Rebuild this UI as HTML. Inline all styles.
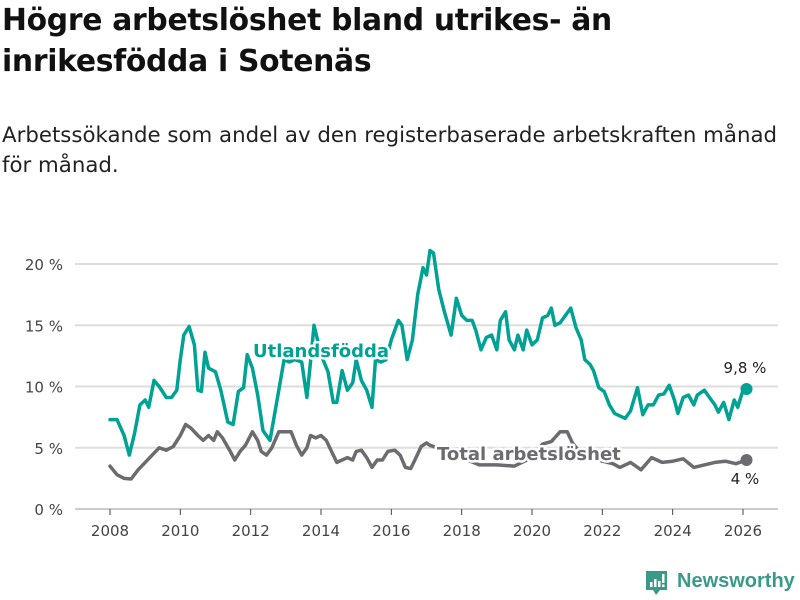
<!DOCTYPE html>
<html><head><meta charset="utf-8">
<style>
body{margin:0;background:#fff;width:800px;height:600px;overflow:hidden;font-family:"Liberation Sans","DejaVu Sans",sans-serif;}
h1{position:absolute;left:2px;top:0;margin:0;font-family:"DejaVu Sans","Liberation Sans",sans-serif;font-weight:bold;font-size:29.8px;line-height:41px;color:#111;letter-spacing:-0.3px}
.sub{position:absolute;left:2px;top:121px;font-family:"DejaVu Sans","Liberation Sans",sans-serif;font-size:21.3px;line-height:30px;color:#222;white-space:nowrap}
svg{position:absolute;left:0;top:0}
</style></head><body>
<h1>Högre arbetslöshet bland utrikes- än<br>inrikesfödda i Sotenäs</h1>
<div class="sub">Arbetssökande som andel av den registerbaserade arbetskraften månad<br>för månad.</div>
<svg id="chart" width="800" height="600"></svg>
<script>
const yTicks=[0,5,10,15,20];
const xTicks=[2008,2010,2012,2014,2016,2018,2020,2022,2024,2026];
const foreignDates=[2008.0,2008.2,2008.4,2008.55,2008.7,2008.85,2009.0,2009.1,2009.25,2009.4,2009.6,2009.75,2009.9,2010.0,2010.1,2010.25,2010.4,2010.5,2010.6,2010.7,2010.8,2011.0,2011.15,2011.35,2011.5,2011.65,2011.8,2011.9,2012.05,2012.2,2012.35,2012.55,2012.8,2012.95,2013.1,2013.25,2013.45,2013.6,2013.7,2013.8,2013.9,2014.0,2014.2,2014.35,2014.45,2014.6,2014.75,2014.9,2015.0,2015.15,2015.3,2015.45,2015.55,2015.7,2015.85,2016.0,2016.2,2016.3,2016.45,2016.6,2016.75,2016.9,2017.0,2017.1,2017.2,2017.35,2017.5,2017.7,2017.85,2018.0,2018.15,2018.3,2018.4,2018.55,2018.7,2018.85,2019.0,2019.1,2019.25,2019.35,2019.5,2019.6,2019.75,2019.85,2020.0,2020.15,2020.3,2020.45,2020.55,2020.65,2020.8,2021.0,2021.1,2021.25,2021.4,2021.5,2021.65,2021.75,2021.9,2022.05,2022.2,2022.35,2022.5,2022.65,2022.8,2023.0,2023.15,2023.3,2023.45,2023.6,2023.75,2023.9,2024.05,2024.15,2024.3,2024.45,2024.6,2024.7,2024.9,2025.1,2025.2,2025.3,2025.45,2025.6,2025.75,2025.85,2026.0,2026.1];
const foreignValues=[7.3,7.3,6.0,4.4,6.2,8.5,8.9,8.3,10.5,10.0,9.1,9.1,9.7,12.2,14.2,14.9,13.4,9.7,9.6,12.8,11.5,11.2,9.7,7.1,6.9,9.6,9.9,12.6,11.5,9.3,6.4,5.6,9.7,12.2,12.0,12.2,12.0,9.1,12.0,15.0,13.8,12.6,11.2,8.7,8.7,11.3,9.7,10.3,12.2,10.5,9.7,8.3,12.2,12.0,12.2,13.8,15.4,15.0,12.2,13.8,17.5,19.7,19.1,21.1,20.9,17.9,16.2,14.2,17.2,15.8,15.4,15.4,14.6,13.0,14.0,14.2,13.0,15.4,16.1,13.8,13.0,14.2,13.0,14.6,13.4,13.8,15.6,15.8,16.4,15.0,15.2,16.0,16.4,14.8,13.8,12.2,11.8,11.3,9.9,9.6,8.5,7.8,7.6,7.4,8.0,9.9,7.7,8.5,8.5,9.3,9.4,10.1,8.9,7.8,9.1,9.3,8.5,9.3,9.7,8.9,8.5,7.9,8.7,7.3,8.9,8.3,9.7,9.8];
const totalDates=[2008.0,2008.2,2008.4,2008.6,2008.8,2009.0,2009.2,2009.4,2009.6,2009.8,2010.0,2010.15,2010.3,2010.5,2010.65,2010.8,2010.95,2011.05,2011.2,2011.4,2011.55,2011.7,2011.85,2012.05,2012.2,2012.3,2012.45,2012.6,2012.8,2013.0,2013.15,2013.3,2013.45,2013.6,2013.7,2013.85,2014.0,2014.15,2014.3,2014.45,2014.6,2014.75,2014.9,2015.0,2015.15,2015.3,2015.45,2015.6,2015.75,2015.9,2016.1,2016.25,2016.4,2016.55,2016.7,2016.85,2017.0,2017.1,2017.5,2018.0,2018.5,2019.0,2019.5,2020.0,2020.3,2020.55,2020.8,2021.0,2021.15,2021.4,2021.7,2022.0,2022.3,2022.5,2022.8,2023.1,2023.4,2023.7,2024.0,2024.3,2024.6,2024.9,2025.2,2025.5,2025.8,2026.1];
const totalValues=[3.5,2.8,2.5,2.45,3.2,3.8,4.4,5.0,4.8,5.1,6.0,6.9,6.6,6.0,5.6,6.0,5.6,6.3,5.8,4.8,4.0,4.7,5.2,6.3,5.6,4.7,4.4,5.0,6.3,6.3,6.3,5.2,4.4,5.0,6.0,5.8,6.0,5.6,4.7,3.8,4.0,4.2,4.0,4.7,4.8,4.2,3.4,4.0,4.0,4.7,4.8,4.4,3.4,3.3,4.2,5.1,5.4,5.2,4.8,4.2,3.6,3.6,3.5,4.2,5.3,5.5,6.3,6.3,5.4,4.5,4.2,3.9,3.7,3.4,3.8,3.2,4.2,3.8,3.9,4.1,3.4,3.6,3.8,3.9,3.7,4.0];

const NS="http://www.w3.org/2000/svg";
const svg=document.getElementById('chart');
const X0=110,X1=743,Y0=509,Y20=264;
const xs=v=>X0+(v-2008)*(X1-X0)/18;
const ys=v=>Y0+v*(Y20-Y0)/20;
function mk(tag,attrs,parent){const e=document.createElementNS(NS,tag);for(const k in attrs)e.setAttribute(k,attrs[k]);(parent||svg).appendChild(e);return e;}

yTicks.forEach(t=>{
  const g=mk('line',{x1:75,x2:778,y1:ys(t),y2:ys(t),stroke:t===0?'#bbb':'#ddd','stroke-width':t===0?1.5:2});
  
  
  const l=mk('text',{x:63,y:ys(t)+6,'text-anchor':'end','font-size':15,fill:'#444','font-family':'DejaVu Sans, Liberation Sans, sans-serif'});
  l.textContent=t+' %';
  
  
});
xTicks.forEach(t=>{
  const tk=mk('line',{x1:xs(t),x2:xs(t),y1:Y0,y2:Y0+6,stroke:'#444','stroke-width':1});
  
  
  const l=mk('text',{x:xs(t),y:536,'text-anchor':'middle','font-size':15,fill:'#444','font-family':'DejaVu Sans, Liberation Sans, sans-serif'});
  l.textContent=t;
  
  
});
function line(dates,vals,color,name){
  const d=dates.map((t,i)=>(i?'L':'M')+xs(t).toFixed(1)+','+ys(vals[i]).toFixed(1)).join('');
  const p=mk('path',{d:d,fill:'none',stroke:color,'stroke-width':3.5,'stroke-linejoin':'round','stroke-linecap':'round'});
  
  
  const c=mk('circle',{cx:xs(dates[dates.length-1]),cy:ys(vals[vals.length-1]),r:6,fill:color});
  
  
}
line(totalDates,totalValues,'#6d6a70','total-line');
line(foreignDates,foreignValues,'#00a293','foreign-born-line');
function lab(x,y,txt,color,name,bold,size,anchor){
  const t=mk('text',{x:x,y:y,fill:color,'font-size':size,'font-weight':bold?'bold':'normal','text-anchor':anchor||'start','font-family':'DejaVu Sans, Liberation Sans, sans-serif',stroke:'#fff','stroke-width':bold?5:4,'paint-order':'stroke','stroke-linejoin':'round'});
  t.textContent=txt;
  
  
}
lab(253,357,'Utlandsfödda','#00a293','foreign-born-label',true,18);
lab(437,460,'Total arbetslöshet','#6d6a70','total-label',true,18);
lab(745,373,'9,8 %','#222','foreign-end-value',false,15,'middle');
lab(745,484,'4 %','#222','total-end-value',false,15,'middle');
</script>
<svg width="30" height="30" style="left:644px;top:569px">
<path d="M2 2h21v19h-7l-4 5-3-5H2z" fill="#3a9a8a"/>
<rect x="6" y="13" width="2.5" height="5" fill="#fff"/><rect x="10" y="10" width="2.5" height="8" fill="#fff"/><rect x="14" y="12" width="2.5" height="6" fill="#fff"/><rect x="18" y="5" width="2.5" height="9" fill="#fff"/><rect x="18" y="15.5" width="2.5" height="2.5" fill="#fff"/>
</svg>
<div style="position:absolute;left:677px;top:570px;font-family:'Liberation Sans','DejaVu Sans',sans-serif;font-size:20px;font-weight:bold;color:#3a9a8a">Newsworthy</div>
</body></html>
